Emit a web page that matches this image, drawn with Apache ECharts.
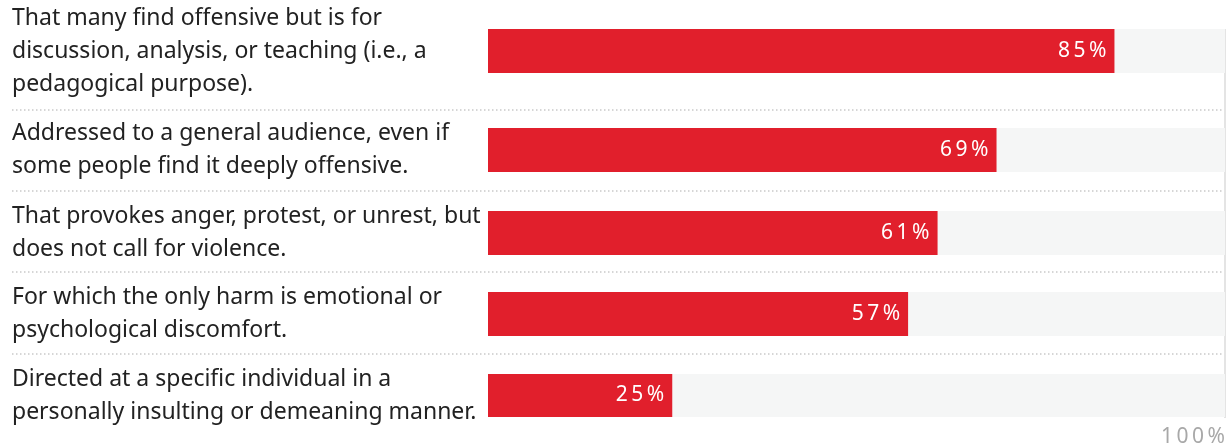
<!DOCTYPE html>
<html>
<head>
<meta charset="utf-8">
<script src="https://cdn.jsdelivr.net/npm/echarts@6/dist/echarts.min.js"></script>
<style>
html,body{margin:0;padding:0;background:#fff;}
#chart{width:1232px;height:448px;}
</style>
</head>
<body>
<div id="chart"></div>
<script>
// ---- data ----
const categories = [
  "That many find offensive but is for\ndiscussion, analysis, or teaching (i.e., a\npedagogical purpose).",
  "Addressed to a general audience, even if\nsome people find it deeply offensive.",
  "That provokes anger, protest, or unrest, but\ndoes not call for violence.",
  "For which the only harm is emotional or\npsychological discomfort.",
  "Directed at a specific individual in a\npersonally insulting or demeaning manner."
];
const values = [85, 69, 61, 57, 25];
const axisMin = 0;
const axisMax = 100;
const axisTickLabel = "100%";

// ---- layout ----
const gridLeft = 488;
const gridRight = 7;
const rowTops = [29, 128, 211, 292, 374];
const rowHeight = 44;
const separatorYs = [110, 191, 272, 354];
const FONT = "Noto Sans";
const RED = "#e11f2c";
const spaced = s => String(s).split('').join('\u2009');

const grids = [], xAxes = [], yAxes = [], series = [];
categories.forEach((cat, i) => {
  grids.push({left: gridLeft, right: gridRight, top: rowTops[i], height: rowHeight, containLabel: false});
  const isLast = i === categories.length - 1;
  xAxes.push({
    gridIndex: i, type: 'value', min: axisMin, max: axisMax, interval: axisMax,
    axisLine: {show: false}, axisTick: {show: false}, splitLine: {show: false},
    axisLabel: {
      show: isLast, margin: 10, align: 'right',
      color: '#a8a8a8', fontFamily: FONT, fontSize: 21,
      formatter: v => v === axisMax ? spaced(axisTickLabel) : ''
    }
  });
  yAxes.push({
    gridIndex: i, type: 'category', data: [cat],
    axisLine: {show: false}, axisTick: {show: false}, splitLine: {show: false},
    axisLabel: {
      align: 'left', margin: gridLeft - 12,
      color: '#222', fontFamily: FONT, fontSize: 23, lineHeight: 33
    }
  });
  series.push({
    type: 'bar', xAxisIndex: i, yAxisIndex: i,
    data: [values[i]], barWidth: '100%',
    itemStyle: {color: RED},
    showBackground: true,
    backgroundStyle: {color: '#f5f6f6'},
    silent: true,
    label: {
      show: true, position: 'insideRight', distance: 8,
      color: '#fff', fontFamily: FONT, fontSize: 21,
      formatter: p => spaced(p.value + '%')
    }
  });
});

const chart = echarts.init(document.getElementById('chart'), null, {renderer: 'canvas'});
chart.setOption({
  animation: false,
  backgroundColor: '#fff',
  grid: grids, xAxis: xAxes, yAxis: yAxes, series: series
});

// decorative lines
const xEnd = chart.convertToPixel({xAxisIndex: 0}, axisMax);
const graphics = separatorYs.map(y => ({
  type: 'line', silent: true,
  shape: {x1: 12, y1: y, x2: xEnd, y2: y},
  style: {stroke: '#c9c9c9', lineWidth: 1.5, lineDash: [1.5, 2.5]}
}));
graphics.push({
  type: 'line', silent: true,
  shape: {x1: xEnd, y1: rowTops[0], x2: xEnd, y2: rowTops[rowTops.length - 1] + rowHeight},
  style: {stroke: '#e4e4e4', lineWidth: 2}
});
chart.setOption({graphic: graphics});
</script>
</body>
</html>
